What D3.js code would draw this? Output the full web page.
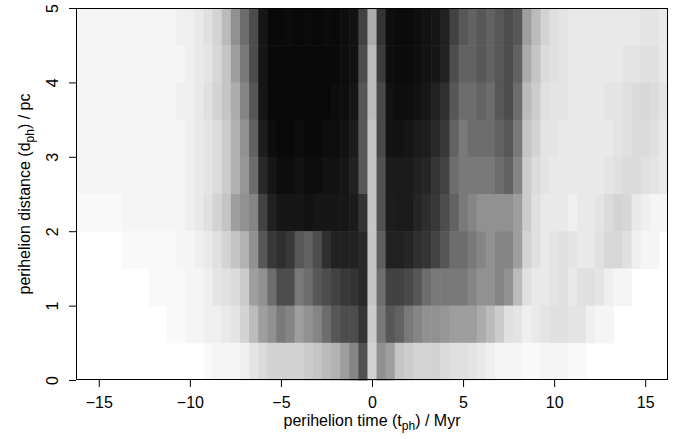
<!DOCTYPE html>
<html>
<head>
<meta charset="utf-8">
<script src="https://cdn.jsdelivr.net/npm/d3@7"></script>
<style>
  html, body { margin: 0; padding: 0; background: #fff; }
  svg text { font-family: "Liberation Sans", Arial, Helvetica, sans-serif; fill: #000; }
</style>
</head>
<body>
<div id="chart"></div>
<script>
// Perihelion time vs perihelion distance: the original is a scatter of tens of
// thousands of dots, so it is drawn here as a grid of point density
// (percent of ink per 0.5 Myr x 0.5 pc cell).

const tMin = -16.25, tMax = 16.25;   // perihelion time range, Myr
const dMin = 0, dMax = 5;            // perihelion distance range, pc
const tBinWidth = 0.5, dBinWidth = 0.5;

const xTicks = [-15, -10, -5, 0, 5, 10, 15];
const yTicks = [0, 1, 2, 3, 4, 5];

// one array per distance band, 65 time bins from -16 to +16 Myr (bin centres)
const ink_45_50 = [1,1,1,1,1,1,1,1,1,1, 1,2,2,3, 5,8,15, 30,45,60,
  88,95,95,94,95,94,95,94,95,93,90, 65,20,72, 92,94,94,92,90,88,82,
  65,55,50,55,50,55,60,55, 25,15, 8,5,4, 3,3,3,3,3,3,3,3,4,4,3];
const ink_40_45 = [1,1,1,1,1,1,1,1,1,1, 1,1,2,3, 4,7,12, 25,40,60,
  88,95,95,95,95,95,95,95,95,93,90, 60,15,68, 92,94,94,92,90,88,82,
  60,50,50,55,50,55,60,50, 20,12, 6,5,4, 3,3,3,3,3,3,4,4,5,5,3];
const ink_35_40 = [1,1,1,1,1,1,1,1,1,1, 1,2,2,3, 5,8,12, 20,35,55,
  88,95,95,95,95,95,95,95,93,92,88, 55,15,62, 90,92,92,90,88,82,75,
  55,45,45,50,45,55,60,45, 15,10, 5,4,4, 3,3,3,3,4,4,5,6,7,6,4];
const ink_30_35 = [1,1,1,1,1,1,1,1,1,1, 1,1,2,3, 4,6,10, 18,30,50,
  84,93,95,95,93,95,95,93,92,90,85, 55,12,62, 90,90,88,85,84,78,70,
  50,40,45,45,45,50,55,40, 12,8, 4,4,3, 3,3,3,3,3,4,5,6,6,5,3];
const ink_25_30 = [1,1,1,1,1,1,1,1,1,1, 1,1,2,3, 4,6,10, 18,28,45,
  78,88,93,93,90,93,93,90,90,88,82, 55,12,58, 85,86,85,82,80,72,65,
  45,40,40,40,40,45,50,35, 10,6, 4,3,3, 3,3,3,3,4,5,6,6,5,4,3];
const ink_20_25 = [0.5,0.5,0.5,0.5,0.5,1,1,1,1,1, 1,1,2,3, 5,8,12, 25,30,35,
  65,82,88,88,88,90,88,88,88,88,85, 72,12,58, 84,85,85,80,76,70,60,
  50,40,35,30,30,30,30,25, 10,5, 3,3,3, 2,3,3,4,6,8,7,3,2,1,1];
const ink_15_20 = [0,0,0,0,0,0.5,0.5,0.5,0.5,0.5, 0.5,1,1,2, 3,5,8, 12,18,30,
  55,70,75,70,55,50,60,75,82,82,82, 78,12,52, 82,82,80,75,72,65,55,
  45,45,40,35,30,35,35,25, 8,5, 3,4,5, 4,3,3,5,7,7,5,2,1,1,0];
const ink_10_15 = [0,0,0,0,0,0,0,0,0.5,0.5, 0.5,0.5,1,1, 2,4,5, 6,10,25,
  30,45,60,60,40,45,55,60,65,70,72, 78,12,45, 65,65,62,55,45,40,40,
  40,40,35,30,30,35,30,15, 5,3, 3,4,5, 3,5,5,4,2,1,1,0,0,0,0];
const ink_05_10 = [0,0,0,0,0,0,0,0,0,0, 0.5,0.5,1,1, 2,2,3, 4,8,15,
  25,30,40,35,25,30,35,45,55,60,60, 72,10,40, 55,50,40,35,30,30,28,
  25,25,25,20,15,10,5,4, 2,3, 4,5,5, 4,4,2,1,1,0,0,0,0,0,0];
const ink_00_05 = [0,0,0,0,0,0,0,0,0,0, 0,0,0,0, 0.5,1,1, 1,2,4,
  6,8,8,8,8,10,12,15,18,25,35, 58,8,30, 25,12,10,8,8,8,6,
  5,5,4,3,2,1,1,1, 0.5,0.5, 1,1,1, 0.5,0.5,0,0,0,0,0,0,0,0,0];

// lower edge of each distance band, top to bottom
const bandStarts = [4.5, 4.0, 3.5, 3.0, 2.5, 2.0, 1.5, 1.0, 0.5, 0.0];
const bands = [ink_45_50, ink_40_45, ink_35_40, ink_30_35, ink_25_30,
               ink_20_25, ink_15_20, ink_10_15, ink_05_10, ink_00_05];

const W = 684, H = 439;
const margin = { top: 8, right: 16, bottom: 59, left: 76 };

const svg = d3.select('#chart').append('svg')
  .attr('width', W).attr('height', H)
  .style('display', 'block');

svg.append('rect').attr('width', W).attr('height', H).attr('fill', '#fff');

const x = d3.scaleLinear().domain([tMin, tMax]).range([margin.left, W - margin.right]);
const y = d3.scaleLinear().domain([dMin, dMax]).range([H - margin.bottom, margin.top]);
// scattered single dots read darker than their ink share, so lift the low end a bit
const shade = d3.scalePow().exponent(0.7).domain([0, 100]).range(['#ffffff', '#000000']).clamp(true);

// flatten to cells
const cells = [];
bands.forEach((row, r) => {
  row.forEach((v, k) => {
    const t0 = tMin + k * tBinWidth;
    cells.push({ t0, t1: t0 + tBinWidth, d0: bandStarts[r], d1: bandStarts[r] + dBinWidth, v });
  });
});

svg.append('g').selectAll('rect')
  .data(cells.filter(c => c.v > 0))
  .join('rect')
  .attr('x', d => x(d.t0))
  .attr('y', d => y(d.d1))
  .attr('width', d => x(d.t1) - x(d.t0) + 0.6)
  .attr('height', d => y(d.d0) - y(d.d1) + 0.6)
  .attr('fill', d => shade(d.v));

// white out anything spilling past the box edges
svg.append('rect').attr('x', W - margin.right + 0.5).attr('y', 0)
  .attr('width', margin.right).attr('height', H).attr('fill', '#fff');

// axes (R style: ticks outside, labels below / rotated on the left)
const xAxis = svg.append('g')
  .attr('transform', `translate(0,${H - margin.bottom})`)
  .call(d3.axisBottom(x).tickValues(xTicks).tickSize(7).tickSizeOuter(0));
xAxis.select('.domain').remove();
xAxis.selectAll('text').attr('y', 28).attr('dy', 0).style('font-size', '16px');

const yAxis = svg.append('g')
  .attr('transform', `translate(${margin.left},0)`)
  .call(d3.axisLeft(y).tickValues(yTicks).tickFormat(d3.format('d')).tickSize(7).tickSizeOuter(0));
yAxis.select('.domain').remove();
yAxis.selectAll('text')
  .attr('transform', 'rotate(-90)')
  .attr('x', 0).attr('y', -18).attr('dy', 0)
  .attr('text-anchor', 'middle')
  .style('font-size', '16px');

svg.selectAll('.tick line').attr('stroke', '#000');

// plot box
svg.append('rect')
  .attr('x', margin.left + 0.5).attr('y', margin.top + 0.5)
  .attr('width', W - margin.left - margin.right - 1)
  .attr('height', H - margin.top - margin.bottom - 1)
  .attr('fill', 'none').attr('stroke', '#000').attr('stroke-width', 1);

// axis titles
const xt = svg.append('text')
  .attr('x', (margin.left + W - margin.right) / 2)
  .attr('y', 426)
  .attr('text-anchor', 'middle')
  .style('font-size', '16px');
xt.append('tspan').text('perihelion time (t');
xt.append('tspan').attr('dy', 4).style('font-size', '12px').text('ph');
xt.append('tspan').attr('dy', -4).text(') / Myr');

const yt = svg.append('text')
  .attr('transform', `translate(30,${(margin.top + H - margin.bottom) / 2}) rotate(-90)`)
  .attr('text-anchor', 'middle')
  .style('font-size', '16px');
yt.append('tspan').text('perihelion distance (d');
yt.append('tspan').attr('dy', 4).style('font-size', '12px').text('ph');
yt.append('tspan').attr('dy', -4).text(') / pc');
</script>
</body>
</html>
